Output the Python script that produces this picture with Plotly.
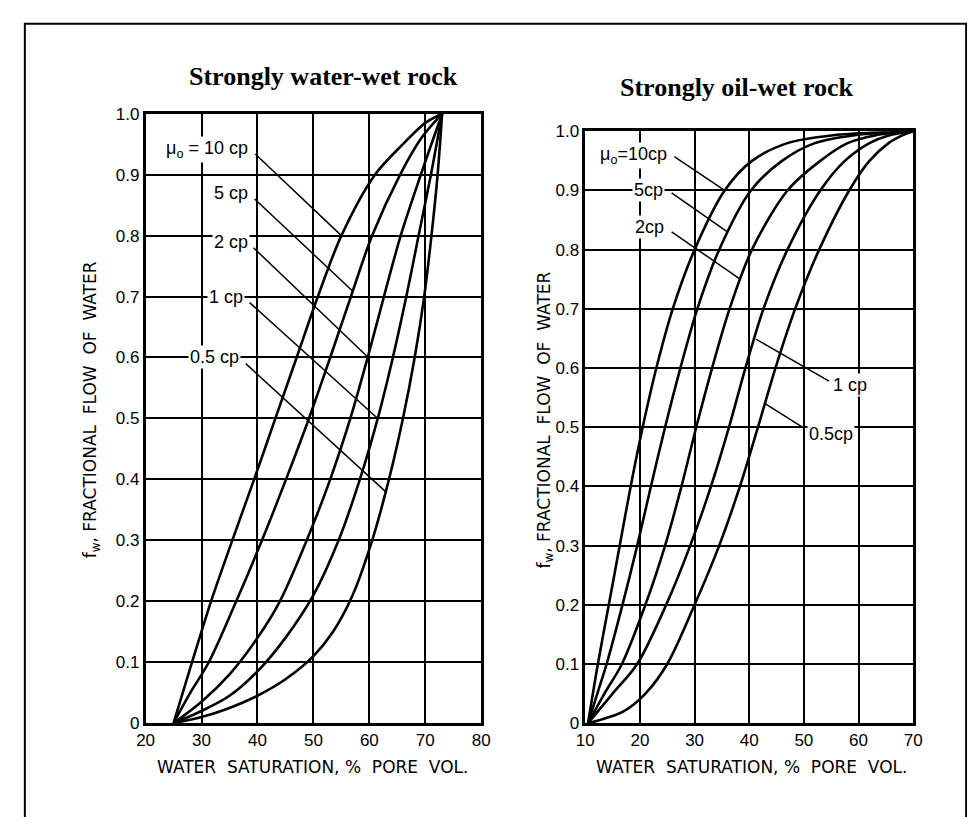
import plotly.graph_objects as go

# ---------------- data: strongly water-wet rock ----------------
ww_sw_10 = [25, 28.3, 31.7, 35.5, 39.4, 43.2, 47.0, 50.8, 55.0, 61.0, 66.0, 70.0, 73.0]
ww_fw_10 = [0, 0.1, 0.2, 0.3, 0.4, 0.5, 0.6, 0.7, 0.8, 0.9, 0.95, 0.985, 1.0]
ww_sw_5 = [25, 28.0, 31.3, 36.2, 40.8, 45.1, 49.2, 53.0, 56.7, 60.5, 65.5, 69.3, 73.0]
ww_fw_5 = [0, 0.05, 0.1, 0.2, 0.3, 0.4, 0.5, 0.6, 0.7, 0.8, 0.9, 0.96, 1.0]
ww_sw_2 = [25, 30.0, 35.0, 40.0, 44.0, 48.8, 53.0, 56.6, 59.7, 62.6, 65.6, 69.2, 73.0]
ww_fw_2 = [0, 0.035, 0.08, 0.14, 0.2, 0.3, 0.4, 0.5, 0.6, 0.7, 0.8, 0.9, 1.0]
ww_sw_1 = [25, 30.0, 35.0, 40.0, 45.0, 50.0, 54.5, 58.3, 61.5, 64.2, 66.6, 68.8, 71.0, 73.0]
ww_fw_1 = [0, 0.02, 0.045, 0.085, 0.14, 0.21, 0.3, 0.4, 0.5, 0.6, 0.7, 0.8, 0.9, 1.0]
ww_sw_05 = [25, 30.0, 35.0, 40.0, 45.0, 50.0, 53.5, 57.0, 60.5, 63.5, 66.0, 68.1, 69.8, 71.1, 72.2, 73.0]
ww_fw_05 = [0, 0.01, 0.025, 0.045, 0.072, 0.11, 0.15, 0.21, 0.3, 0.4, 0.5, 0.6, 0.7, 0.8, 0.9, 1.0]

# ---------------- data: strongly oil-wet rock ----------------
ow_sw_10 = [10.5, 12.3, 14.3, 16.3, 18.3, 20.5, 23.0, 26.0, 30.0, 35.5, 40.5, 47.0, 55.0, 70.0]
ow_fw_10 = [0, 0.1, 0.2, 0.3, 0.4, 0.5, 0.6, 0.7, 0.8, 0.9, 0.95, 0.98, 0.993, 1.0]
ow_sw_5 = [10.5, 12.2, 13.9, 16.8, 19.5, 22.0, 24.6, 27.4, 30.5, 34.5, 40.3, 46.0, 52.0, 59.0, 70.0]
ow_fw_5 = [0, 0.05, 0.1, 0.2, 0.3, 0.4, 0.5, 0.6, 0.7, 0.8, 0.9, 0.95, 0.98, 0.993, 1.0]
ow_sw_2 = [10.5, 13.5, 16.7, 21.0, 24.6, 27.6, 30.3, 33.2, 36.4, 40.5, 47.0, 53.0, 58.0, 63.0, 70.0]
ow_fw_2 = [0, 0.05, 0.1, 0.2, 0.3, 0.4, 0.5, 0.6, 0.7, 0.8, 0.9, 0.95, 0.98, 0.993, 1.0]
ow_sw_1 = [10.5, 15.0, 19.5, 24.8, 29.2, 33.0, 36.3, 39.3, 42.6, 47.0, 53.0, 57.5, 62.0, 65.5, 70.0]
ow_fw_1 = [0, 0.05, 0.1, 0.2, 0.3, 0.4, 0.5, 0.6, 0.7, 0.8, 0.9, 0.95, 0.98, 0.993, 1.0]
ow_sw_05 = [10.5, 17.0, 21.0, 25.0, 30.0, 34.5, 38.3, 41.6, 44.8, 48.4, 52.8, 58.3, 62.0, 65.5, 68.0, 70.0]
ow_fw_05 = [0, 0.02, 0.05, 0.1, 0.2, 0.3, 0.4, 0.5, 0.6, 0.7, 0.8, 0.9, 0.95, 0.98, 0.993, 1.0]

# tick labels
y_tickvals = [0, 0.1, 0.2, 0.3, 0.4, 0.5, 0.6, 0.7, 0.8, 0.9, 1.0]
y_ticktext = ["0", "0.1", "0.2", "0.3", "0.4", "0.5", "0.6", "0.7", "0.8", "0.9", "1.0"]
ww_xticks = [20, 30, 40, 50, 60, 70, 80]
ow_xticks = [10, 20, 30, 40, 50, 60, 70]

# curve labels: text, label anchor (x, y), leader start, leader end (on curve)
ww_labels = [
    ("μ<sub>o</sub> = 10 cp", 38.6, 0.942, 39.6, 0.934, 55.0, 0.80),
    ("5 cp", 38.6, 0.870, 39.5, 0.860, 56.9, 0.71),
    ("2 cp", 38.6, 0.790, 39.3, 0.780, 59.8, 0.60),
    ("1 cp", 37.8, 0.700, 38.6, 0.690, 61.5, 0.50),
    ("0.5 cp", 37.1, 0.600, 37.9, 0.590, 62.9, 0.38),
]
ow_labels = [
    ("μ<sub>o</sub>=10cp", 25.4, 0.959, 26.3, 0.957, 35.5, 0.90),
    ("5cp", 24.6, 0.900, 25.8, 0.896, 36.0, 0.83),
    ("2cp", 24.8, 0.838, 25.8, 0.830, 38.4, 0.75),
]
ow_labels_right = [
    ("1 cp", 55.0, 0.572, 54.6, 0.578, 41.2, 0.649),
    ("0.5cp", 50.6, 0.488, 50.1, 0.498, 42.9, 0.540),
]

W, H = 975, 817

def px_x(p):
    return p / W

def px_y(p):
    return 1 - p / H

fig = go.Figure()

line_style = dict(color="black", width=2.6, shape="spline", smoothing=0.9)
for sw, fw in [(ww_sw_10, ww_fw_10), (ww_sw_5, ww_fw_5), (ww_sw_2, ww_fw_2),
               (ww_sw_1, ww_fw_1), (ww_sw_05, ww_fw_05)]:
    fig.add_trace(go.Scatter(x=sw, y=fw, mode="lines", line=line_style,
                             xaxis="x", yaxis="y", showlegend=False, hoverinfo="skip"))
for sw, fw in [(ow_sw_10, ow_fw_10), (ow_sw_5, ow_fw_5), (ow_sw_2, ow_fw_2),
               (ow_sw_1, ow_fw_1), (ow_sw_05, ow_fw_05)]:
    fig.add_trace(go.Scatter(x=sw, y=fw, mode="lines", line=line_style,
                             xaxis="x2", yaxis="y2", showlegend=False, hoverinfo="skip"))

tick_font = dict(family="Liberation Sans, Arial, sans-serif", size=17, color="black")
axis_common = dict(showline=True, mirror=True, linecolor="black", linewidth=2.6,
                   showgrid=True, gridcolor="black", gridwidth=1.6, zeroline=False,
                   ticks="", tickfont=tick_font, fixedrange=True)

fig.update_layout(
    width=W, height=H,
    margin=dict(l=0, r=0, t=0, b=0),
    paper_bgcolor="white", plot_bgcolor="white",
    xaxis=dict(domain=[px_x(131), px_x(473)], range=[20, 80], tickvals=ww_xticks,
               anchor="y", **axis_common),
    yaxis=dict(domain=[px_y(723), px_y(99)], range=[0, 1.0], tickvals=y_tickvals,
               ticktext=y_ticktext, anchor="x", **axis_common),
    xaxis2=dict(domain=[px_x(579), px_x(913)], range=[10, 70], tickvals=ow_xticks,
                anchor="y2", **axis_common),
    yaxis2=dict(domain=[px_y(723), px_y(117)], range=[0, 1.0], tickvals=y_tickvals,
                ticktext=y_ticktext, anchor="x2", **axis_common),
)

annotations = []
shapes = []

label_font = dict(family="Liberation Sans, Arial, sans-serif", size=18, color="black")

for text, lx, ly, sx, sy, ex, ey in ww_labels:
    annotations.append(dict(x=lx, y=ly, xref="x", yref="y", text=text, showarrow=False,
                            xanchor="right", yanchor="middle", font=label_font,
                            bgcolor="white", borderpad=1))
    shapes.append(dict(type="line", xref="x", yref="y", x0=sx, y0=sy, x1=ex, y1=ey,
                       line=dict(color="black", width=1.5)))
for text, lx, ly, sx, sy, ex, ey in ow_labels:
    annotations.append(dict(x=lx, y=ly, xref="x2", yref="y2", text=text, showarrow=False,
                            xanchor="right", yanchor="middle", font=label_font,
                            bgcolor="white", borderpad=1))
    shapes.append(dict(type="line", xref="x2", yref="y2", x0=sx, y0=sy, x1=ex, y1=ey,
                       line=dict(color="black", width=1.5)))
for text, lx, ly, sx, sy, ex, ey in ow_labels_right:
    annotations.append(dict(x=lx, y=ly, xref="x2", yref="y2", text=text, showarrow=False,
                            xanchor="left", yanchor="middle", font=label_font,
                            bgcolor="white", borderpad=1))
    shapes.append(dict(type="line", xref="x2", yref="y2", x0=sx, y0=sy, x1=ex, y1=ey,
                       line=dict(color="black", width=1.5)))

title_font = dict(family="Liberation Serif, Times New Roman, serif", size=26, color="black")
annotations.append(dict(x=px_x(312), y=px_y(61), xref="paper", yref="paper",
                        text="<b>Strongly water-wet rock</b>", showarrow=False,
                        xanchor="center", yanchor="middle", font=title_font))
annotations.append(dict(x=px_x(734), y=px_y(72), xref="paper", yref="paper",
                        text="<b>Strongly oil-wet rock</b>", showarrow=False,
                        xanchor="center", yanchor="middle", font=title_font))

axis_title_font = dict(family="DejaVu Sans, sans-serif", size=17, color="black")
xtitle = "WATER  SATURATION, %  PORE  VOL."
annotations.append(dict(x=px_x(301), y=px_y(768), xref="paper", yref="paper",
                        text=xtitle, showarrow=False, xanchor="center", yanchor="middle",
                        font=axis_title_font))
annotations.append(dict(x=px_x(748), y=px_y(768), xref="paper", yref="paper",
                        text=xtitle, showarrow=False, xanchor="center", yanchor="middle",
                        font=axis_title_font))
ytitle = "f<sub>w</sub>, FRACTIONAL  FLOW  OF  WATER"
annotations.append(dict(x=px_x(76), y=px_y(402), xref="paper", yref="paper",
                        text=ytitle, showarrow=False, textangle=-90,
                        xanchor="center", yanchor="middle", font=axis_title_font))
annotations.append(dict(x=px_x(538), y=px_y(413), xref="paper", yref="paper",
                        text=ytitle, showarrow=False, textangle=-90,
                        xanchor="center", yanchor="middle", font=axis_title_font))

# outer frame (bottom edge runs off the page)
shapes.append(dict(type="rect", xref="paper", yref="paper",
                   x0=px_x(8), x1=px_x(967), y0=-0.05, y1=px_y(7),
                   line=dict(color="black", width=2), layer="below"))

fig.update_layout(annotations=annotations, shapes=shapes)

fig.write_html("out.html")
